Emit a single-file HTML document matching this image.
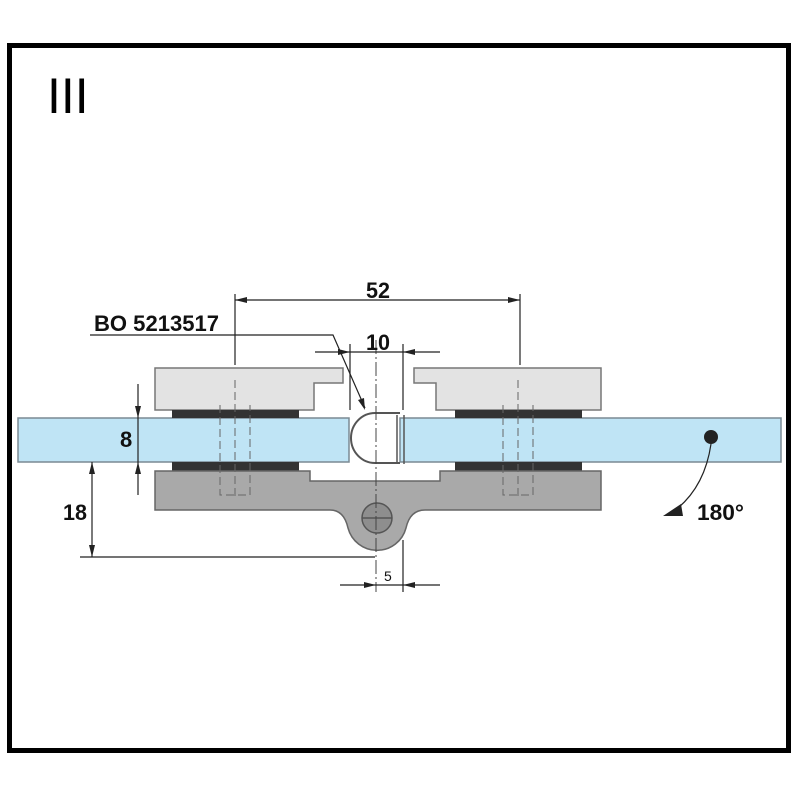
<!DOCTYPE html>
<html><head><meta charset="utf-8"><style>body{margin:0;background:#fff}svg{display:block}text{font-family:"Liberation Sans",sans-serif}</style></head><body>
<svg width="800" height="800" viewBox="0 0 800 800" xmlns="http://www.w3.org/2000/svg">
<rect x="9.5" y="45.5" width="779" height="705" fill="#fff" stroke="#000" stroke-width="5"/>
<text x="47" y="113" font-size="50" fill="#000">III</text>
<!-- glass -->
<rect x="18" y="418" width="331" height="44" fill="#bfe4f5" stroke="#7a8a94" stroke-width="1.5"/>
<rect x="400" y="418" width="381" height="44" fill="#bfe4f5" stroke="#7a8a94" stroke-width="1.5"/>
<!-- top clamps -->
<path d="M155 368 H343 V383 H314 V410 H155 Z" fill="#e3e3e3" stroke="#777" stroke-width="1.5"/>
<path d="M414 368 H601 V410 H436 V383 H414 Z" fill="#e3e3e3" stroke="#777" stroke-width="1.5"/>
<!-- gaskets -->
<rect x="172" y="410" width="127" height="8" fill="#333"/>
<rect x="455" y="410" width="127" height="8" fill="#333"/>
<rect x="172" y="462" width="127" height="9" fill="#333"/>
<rect x="455" y="462" width="127" height="9" fill="#333"/>
<!-- bottom clamp with knuckle -->
<path d="M155 471 H310 V481 H440 V471 H601 V510 H425 Q410 510 406 528 A30 30 0 0 1 348 528 Q344 510 330 510 H155 Z" fill="#a9a9a9" stroke="#666" stroke-width="1.5"/>
<circle cx="377" cy="518" r="15" fill="#8e8e8e" stroke="#555" stroke-width="1.5"/>
<line x1="362" y1="518" x2="392" y2="518" stroke="#555" stroke-width="1.5"/>
<!-- U seal -->
<path d="M400 413 H375 A24 25 0 0 0 375 463 H400" fill="none" stroke="#555" stroke-width="2"/>
<path d="M397 415 V463 M404 415 V464" stroke="#555" stroke-width="1.5" fill="none"/>
<!-- bolts dashed -->
<g stroke="#666" stroke-width="1" stroke-dasharray="8 4" fill="none">
<path d="M220 405 V495 H250 V405"/><path d="M503 405 V495 H533 V405"/>
<line x1="235" y1="380" x2="235" y2="500"/><line x1="518" y1="380" x2="518" y2="500"/>
</g>
<!-- center line -->
<line x1="376" y1="340" x2="376" y2="592" stroke="#444" stroke-width="1" stroke-dasharray="14 3 2 3"/>
<!-- dims -->
<g stroke="#222" stroke-width="1.2" fill="none">
<line x1="235" y1="294" x2="235" y2="365"/><line x1="520" y1="294" x2="520" y2="365"/>
<line x1="235" y1="300" x2="520" y2="300"/>
<line x1="350" y1="344" x2="350" y2="410"/><line x1="403" y1="344" x2="403" y2="410"/>
<line x1="315" y1="352" x2="440" y2="352"/>
<polyline points="90,335 333,335 365,408"/>
<line x1="138" y1="384" x2="138" y2="495"/>
<line x1="92" y1="462" x2="92" y2="557"/>
<line x1="80" y1="557" x2="375" y2="557"/>
<line x1="403" y1="540" x2="403" y2="592"/>
<line x1="340" y1="585" x2="440" y2="585"/>
<path d="M711 444 Q705 485 678 508"/>
</g>
<g fill="#222">
<path d="M235 300 l12 -3 v6z"/><path d="M520 300 l-12 -3 v6z"/>
<path d="M350 352 l-12 -3 v6z"/><path d="M403 352 l12 -3 v6z"/>
<path d="M365 410 l-7 -10 l6 -2z"/>
<path d="M138 418 l-3 -12 h6z"/><path d="M138 462 l-3 12 h6z"/>
<path d="M92 462 l-3 12 h6z"/><path d="M92 557 l-3 -12 h6z"/>
<path d="M376 585 l-12 -3 v6z"/><path d="M403 585 l12 -3 v6z"/>
<path d="M663 516 l18 -12 l2 12z"/>
<circle cx="711" cy="437" r="7"/>
</g>
<g font-size="22" font-weight="bold" fill="#111">
<text x="366" y="298" textLength="24" lengthAdjust="spacingAndGlyphs">52</text>
<text x="366" y="350" textLength="24" lengthAdjust="spacingAndGlyphs">10</text>
<text x="94" y="331" textLength="125" lengthAdjust="spacingAndGlyphs">BO 5213517</text>
<text x="120" y="447">8</text>
<text x="63" y="520" textLength="24" lengthAdjust="spacingAndGlyphs">18</text>
<text x="697" y="520" textLength="47" lengthAdjust="spacingAndGlyphs">180°</text>
</g>
<text x="384" y="581" font-size="14" fill="#111" font-family="Liberation Serif,serif">5</text>
</svg>
</body></html>
